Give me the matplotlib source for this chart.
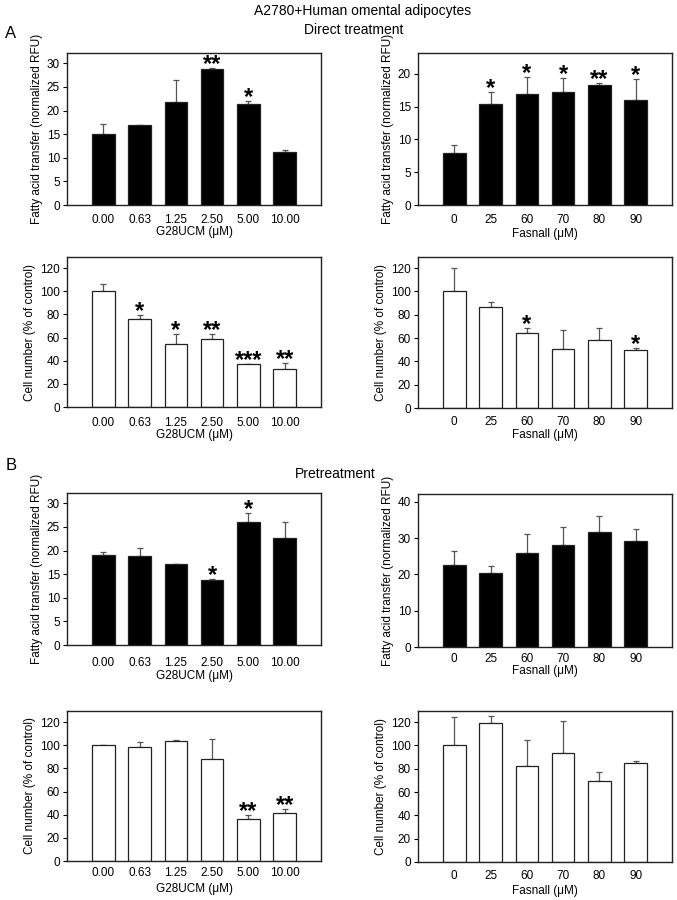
import matplotlib
matplotlib.use("Agg")
import matplotlib.pyplot as plt
import numpy as np

plt.rcParams['font.family'] = ['Liberation Sans', 'DejaVu Sans']

g28_labels = ["0.00", "0.63", "1.25", "2.50", "5.00", "10.00"]
fas_labels = ["0", "25", "60", "70", "80", "90"]

# A: direct treatment
a_fat_g28 = [15.0, 16.9, 21.8, 28.9, 21.5, 11.3]
a_fat_g28_err = [2.2, 0.1, 4.6, 0.1, 0.6, 0.3]
a_fat_g28_sig = ["", "", "", "**", "*", ""]

a_fat_fas = [8.0, 15.4, 16.9, 17.3, 18.3, 16.1]
a_fat_fas_err = [1.1, 1.8, 2.7, 2.1, 0.3, 3.2]
a_fat_fas_sig = ["", "*", "*", "*", "**", "*"]

a_cell_g28 = [100, 76, 54, 58.5, 37, 33]
a_cell_g28_err = [6, 3.5, 9, 4.5, 0.3, 5]
a_cell_g28_sig = ["", "*", "*", "**", "***", "**"]

a_cell_fas = [100, 87, 64.5, 50.5, 58, 50]
a_cell_fas_err = [20, 3.5, 4, 16.5, 10.5, 1.5]
a_cell_fas_sig = ["", "", "*", "", "", "*"]

# B: pretreatment
b_fat_g28 = [19.0, 18.9, 17.1, 13.8, 26.1, 22.7]
b_fat_g28_err = [0.8, 1.6, 0.1, 0.2, 1.9, 3.3]
b_fat_g28_sig = ["", "", "", "*", "*", ""]

b_fat_fas = [22.6, 20.5, 26.0, 28.2, 31.6, 29.2]
b_fat_fas_err = [4.0, 1.8, 5.3, 4.8, 4.6, 3.3]
b_fat_fas_sig = ["", "", "", "", "", ""]

b_cell_g28 = [100, 98.5, 104, 88, 36, 41.5]
b_cell_g28_err = [0.5, 4.5, 0.2, 17, 4, 3.5]
b_cell_g28_sig = ["", "", "", "", "**", "**"]

b_cell_fas = [100, 119.5, 82.5, 93.5, 69.5, 84.5]
b_cell_fas_err = [24, 5.5, 22.5, 27, 7.5, 2]
b_cell_fas_sig = ["", "", "", "", "", ""]

fat_label = "Fatty acid transfer (normalized RFU)"
cell_label = "Cell number (% of control)"

W, H = 677, 900
fig = plt.figure(figsize=(W / 100, H / 100), dpi=100)

def ax_at(x0, y0, x1, y1):
    return fig.add_axes([x0 / W, 1 - y1 / H, (x1 - x0) / W, (y1 - y0) / H])

def panel(ax, vals, errs, sig, labels, xlabel, ylabel, ylim, yticks, fill, tpad, lpad):
    x = np.arange(len(vals))
    ax.bar(x, vals, width=0.62, color=fill, edgecolor='#222222', linewidth=0.9, zorder=2)
    ax.errorbar(x, vals, yerr=[np.zeros(len(vals)), errs], fmt='none',
                ecolor='#555555', elinewidth=0.9, capsize=2, capthick=0.9, zorder=1)
    for xi, v, e, s in zip(x, vals, errs, sig):
        if s:
            ax.annotate(s, xy=(xi, v + e), xytext=(0, -3), textcoords='offset pixels',
                        ha='center', va='baseline', fontsize=17, fontweight='bold')
    ax.set_xlim(-1, 6)
    ax.set_ylim(0, ylim)
    ax.set_yticks(yticks)
    ax.set_xticks(x)
    ax.set_xticklabels(labels)
    ax.tick_params(axis='x', length=0, labelsize=8.5, pad=tpad)
    ax.tick_params(axis='y', length=3, width=0.8, labelsize=8.5, pad=2)
    ax.set_xlabel(xlabel, fontsize=8.5, labelpad=lpad)
    ax.set_ylabel(ylabel, fontsize=8.5, labelpad=3)
    for sp in ax.spines.values():
        sp.set_linewidth(1.0)
        sp.set_color('#222222')

Lx0, Lx1 = 67, 321
Rx0, Rx1 = 418, 672
g = "G28UCM (\u03bcM)"
f = "Fasnall (\u03bcM)"

ax = ax_at(Lx0, 53, Lx1, 205)
panel(ax, a_fat_g28, a_fat_g28_err, a_fat_g28_sig, g28_labels, g, fat_label, 32.2, range(0, 31, 5), 'black', 6.5, 0)
ax = ax_at(Rx0, 53, Rx1, 205)
panel(ax, a_fat_fas, a_fat_fas_err, a_fat_fas_sig, fas_labels, f, fat_label, 23.2, range(0, 21, 5), 'black', 6.5, 1.2)
ax = ax_at(Lx0, 257, Lx1, 407)
panel(ax, a_cell_g28, a_cell_g28_err, a_cell_g28_sig, g28_labels, g, cell_label, 129.5, range(0, 121, 20), 'white', 7.5, 0)
ax = ax_at(Rx0, 257, Rx1, 408)
panel(ax, a_cell_fas, a_cell_fas_err, a_cell_fas_sig, fas_labels, f, cell_label, 129.5, range(0, 121, 20), 'white', 5.8, 0.4)

ax = ax_at(Lx0, 493, Lx1, 645)
panel(ax, b_fat_g28, b_fat_g28_err, b_fat_g28_sig, g28_labels, g, fat_label, 32.2, range(0, 31, 5), 'black', 8.5, 0.8)
ax = ax_at(Rx0, 494, Rx1, 647)
panel(ax, b_fat_fas, b_fat_fas_err, b_fat_fas_sig, fas_labels, f, fat_label, 42.2, range(0, 41, 10), 'black', 4.4, 0)
ax = ax_at(Lx0, 711, Lx1, 861)
panel(ax, b_cell_g28, b_cell_g28_err, b_cell_g28_sig, g28_labels, g, cell_label, 129.5, range(0, 121, 20), 'white', 4, 3)
ax = ax_at(Rx0, 711, Rx1, 862)
panel(ax, b_cell_fas, b_cell_fas_err, b_cell_fas_sig, fas_labels, f, cell_label, 129.5, range(0, 121, 20), 'white', 5.8, 1.8)

fig.text(363 / W, 1 - 11 / H, "A2780+Human omental adipocytes", ha='center', va='center', fontsize=10)
fig.text(354 / W, 1 - 30 / H, "Direct treatment", ha='center', va='center', fontsize=10)
fig.text(335 / W, 1 - 474 / H, "Pretreatment", ha='center', va='center', fontsize=10)
fig.text(11 / W, 1 - 33 / H, "A", ha='center', va='center', fontsize=12)
fig.text(11 / W, 1 - 466 / H, "B", ha='center', va='center', fontsize=12)

fig.savefig("out.png", dpi=100, facecolor='white')
